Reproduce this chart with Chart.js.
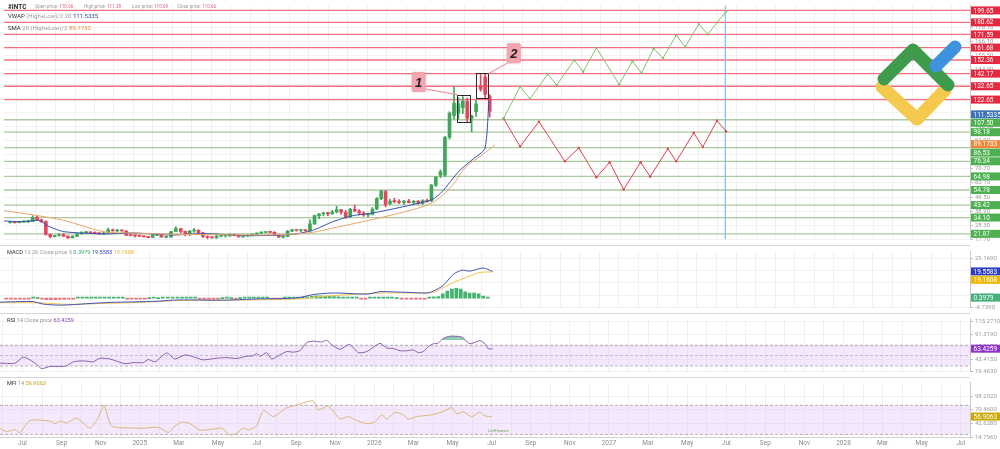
<!DOCTYPE html>
<html>
<head>
<meta charset="utf-8">
<script src="https://cdn.jsdelivr.net/npm/chart.js@4.4.1/dist/chart.umd.min.js"></script>
<style>
body{margin:0;background:#fff;font-family:Roboto,"Noto Sans",sans-serif;}
#wrap{position:relative;width:1000px;height:449px;overflow:hidden;background:#fff;}
canvas{position:absolute;left:0;}
.hd{position:absolute;white-space:nowrap;line-height:1;color:#2f2f2f;}
.g{color:#9a9a9a;}
.sep{position:absolute;left:0;width:970px;height:1px;background:#d6d6d6;}
</style>
</head>
<body>
<div id="wrap">
<canvas id="priceChart" width="1000" height="245" style="top:0"></canvas>
<canvas id="macdChart" width="1000" height="67" style="top:246px"></canvas>
<canvas id="rsiChart" width="1000" height="64" style="top:313px"></canvas>
<canvas id="mfiChart" width="1000" height="72" style="top:377px"></canvas>
<div class="sep" style="top:245px"></div>
<div class="sep" style="top:313px"></div>
<div class="sep" style="top:377px"></div>

<svg width="1000" height="449" style="position:absolute;left:0;top:0;pointer-events:none">
<g fill="none" stroke-linecap="round" stroke-linejoin="round" stroke-width="13">
<polyline points="882,87 917,119 945,90" stroke="#f3c94e"/>
<polyline points="884,79 913,50 948,85" stroke="#3e9b4b"/>
<line x1="936" y1="66" x2="955" y2="47" stroke="#3f93dc"/>
</g>
</svg>

<div class="hd" style="left:8px;top:4px;font-size:6.5px;font-weight:bold">#INTC</div>
<div class="hd g" style="left:35px;top:5px;font-size:4.6px">Open price: <span style="color:#e36174">110.66</span></div>
<div class="hd g" style="left:84px;top:5px;font-size:4.6px">High price: <span style="color:#e36174">111.38</span></div>
<div class="hd g" style="left:132px;top:5px;font-size:4.6px">Low price: <span style="color:#e36174">110.69</span></div>
<div class="hd g" style="left:177px;top:5px;font-size:4.6px">Close price: <span style="color:#e36174">110.66</span></div>
<div class="hd" style="left:8px;top:13px;font-size:6px">VWAP <span class="g">(High+Low)/2 20</span> <span id="vwapVal" style="color:#3550b0"></span></div>
<div class="hd" style="left:8px;top:25px;font-size:6px">SMA <span class="g">20 (High+Low)/2</span> <span id="smaVal" style="color:#ef8a3a"></span></div>
<div class="hd" style="left:7px;top:250px;font-size:5.6px">MACD <span class="g">12 26 Close price 9</span> <span style="color:#3aa76d">0.3979</span> <span style="color:#2f3fc4">19.5583</span> <span style="color:#f0b429">19.1608</span></div>
<div class="hd" style="left:7px;top:318px;font-size:5.6px">RSI <span class="g">14 Close price</span> <span style="color:#8e44ad">63.4259</span></div>
<div class="hd" style="left:7px;top:381px;font-size:5.6px">MFI <span class="g">14</span> <span style="color:#c9a227">56.9063</span></div>
<div class="hd" style="left:488px;top:429px;font-size:4px;color:#6aaa5a">LiteFinance</div>
</div>

<script>
// levels and price tags
const levelsUp = [199.65, 180.62, 171.59, 161.68, 152.36, 142.17, 132.65, 122.65];
const levelsDown = [107.50, 98.18, 86.53, 76.34, 64.98, 54.78, 43.42, 34.10, 21.87];
const vwapLast = 111.5335;
const smaLast = 89.1733;

const monthNames = ["Jan","Feb","Mar","Apr","May","Jun","Jul","Aug","Sep","Oct","Nov","Dec"];
const priceTicks = [17.70,28.30,38.90,49.50,60.10,70.70,81.30,91.90,102.50,113.10,123.70,134.30,144.90,155.50,166.10,176.70,187.30];
const macdTicks = [-6.739, 2.238, 11.215, 20.192, 29.169];
const rsiTicks = [19.463, 43.415, 67.367, 91.319, 115.271];
const mfiTicks = [14.796, 42.628, 70.460, 98.292];

// weekly candles, first week starts 2024-06-06
const firstWeek = "2024-06-06";
const candleOpen = [30.3,30.6,30.2,30.9,31.0,31.1,34.5,32.4,31.0,21.5,
19.8,20.6,21.3,20.1,18.9,20.0,21.8,22.8,22.9,22.7,
22.2,21.9,22.5,24.9,24.1,24.2,24.0,20.7,20.6,20.3,
20.2,19.7,19.2,20.7,21.5,19.4,19.4,23.6,25.9,23.7,
21.3,24.0,24.5,22.7,19.9,19.3,18.8,20.1,20.3,20.4,
21.5,20.5,19.6,20.2,20.5,21.6,22.4,22.9,23.3,23.0,
20.7,19.3,19.9,23.9,24.8,24.4,24.8,24.1,29.3,35.5,
36.8,37.2,37.0,38.3,40.0,38.1,34.5,40.2,39.0,37.5,
36.0,36.5,40.5,48.3,53.6,44.5,46.5,46.0,45.5,46.5,
45.2,46.2,44.8,46.8,46.5,58.5,66.0,66.0,94.4,110.5,
112.5,116.5,121.5,108.5,113.5,133.0,139.5,125.0];
const candleHigh = [31.2,31.0,31.4,31.5,31.8,35.5,35.0,33.0,31.6,21.9,
21.0,22.0,22.0,20.4,20.5,22.5,23.5,23.2,23.3,23.4,
22.8,23.5,26.2,25.5,25.0,25.1,24.3,21.5,20.9,20.6,
20.3,20.0,21.5,21.9,21.6,20.0,23.8,27.4,26.0,24.0,
24.5,26.0,25.0,23.0,20.3,19.7,22.0,20.8,20.6,21.9,
21.7,20.8,20.4,21.0,21.7,22.6,23.4,23.6,23.4,23.5,
21.0,21.0,24.5,25.4,25.3,25.0,25.2,32.4,35.9,37.2,
38.0,38.0,39.5,42.5,40.1,39.5,41.0,43.5,40.0,38.5,
37.5,41.5,49.0,54.5,54.5,48.0,48.5,47.5,47.0,47.8,
47.0,47.0,47.5,48.0,59.0,65.0,70.0,95.0,113.5,132.5,
124.0,125.0,124.0,111.0,122.0,141.5,142.0,126.5];
const candleLow = [29.8,29.9,30.0,30.4,30.3,31.0,32.0,30.5,20.9,18.8,
19.5,20.2,19.9,18.5,18.9,19.9,21.6,22.0,22.3,22.0,
21.5,21.5,22.3,23.8,23.5,23.8,20.6,20.3,19.6,19.8,
19.3,18.9,19.1,20.5,19.3,18.9,19.3,23.5,22.5,20.3,
20.5,23.0,22.5,19.0,18.0,18.6,18.6,19.6,19.3,20.1,
20.3,19.5,19.4,20.0,20.3,21.2,22.2,22.5,22.6,20.6,
19.2,18.9,19.8,23.5,23.9,23.5,23.8,24.0,29.0,33.3,
35.3,35.5,36.5,37.5,36.7,33.5,34.0,38.5,36.0,35.0,
34.5,36.0,40.0,47.5,42.0,43.5,45.0,44.5,44.0,45.0,
44.0,44.2,44.0,45.5,46.0,57.5,64.0,65.0,93.0,108.0,
108.0,112.0,106.0,98.5,110.0,129.0,123.0,109.5];
const candleClose = [30.6,30.2,30.9,31.0,31.1,34.2,32.4,31.0,21.5,19.8,
20.6,21.3,20.1,18.9,20.0,21.8,22.8,22.9,22.7,22.2,
21.9,22.5,24.9,24.1,24.2,24.0,20.7,20.6,20.3,20.2,
19.7,19.2,20.7,21.5,19.4,19.4,23.6,25.9,23.7,21.3,
24.0,24.5,22.7,19.9,19.3,18.8,20.1,20.3,20.4,21.5,
20.5,19.6,20.2,20.5,21.6,22.4,22.9,23.3,23.0,20.7,
19.3,19.9,23.9,24.8,24.4,24.8,24.1,29.3,35.5,36.8,
37.2,37.0,38.3,40.0,38.1,34.5,40.2,39.0,37.5,36.0,
36.5,40.5,48.3,54.0,43.5,46.5,46.0,45.5,46.5,45.2,
46.2,44.8,46.8,46.0,58.5,64.3,68.5,94.4,112.3,120.0,
119.5,121.5,108.7,110.5,119.5,130.5,126.6,114.0];

// x values below are months counted from Jan 2024 (6 = Jul 2024)
const vwapX = [4.85,5.87,6.64,7.15,7.92,9.96,11.50,13.54,15.08,17.63,19.68,20.71,21.74,22.76,23.78,25.16,26.85,27.36,28.23,28.89,29.55,29.76];
const vwapY = [31.5,31.0,32.0,27.5,23.5,21.8,22.5,21.0,22.0,20.5,21.5,24.5,31.0,35.5,37.5,41.6,47.6,53.6,69.1,77.4,85.8,122.0];
const smaX = [4.85,6.38,7.92,9.96,11.50,13.54,16.10,18.15,19.68,20.71,21.74,23.27,25.32,26.85,27.87,28.53,29.40,30.07];
const smaY = [39.3,36.0,32.0,23.5,22.5,21.5,21.2,21.0,21.7,23.0,26.2,31.0,38.0,45.2,58.0,71.5,81.0,88.6];

// forecast paths
const bullX = [30.51,31.36,31.87,32.78,33.24,34.14,34.60,35.28,36.45,37.13,37.60,38.22,38.70,39.38,39.84,40.54,41.00,41.94];
const bullY = [108.5,132.3,123.2,141.8,133.5,152.2,143.6,161.5,134.0,151.4,142.6,161.0,153.8,171.0,162.2,179.3,171.7,188.9];
const bearX = [30.51,31.36,32.33,33.66,34.38,35.28,35.96,36.68,37.55,38.04,38.95,39.38,40.28,40.74,41.47,41.94];
const bearY = [108.5,87.4,106.1,76.3,86.3,64.3,75.6,55.2,75.6,64.8,85.8,76.3,97.7,87.0,106.8,98.9];
const forecastEnd = 41.9;

// MACD
const macdX = [4.85,5.87,6.55,7.06,7.92,8.60,9.45,10.48,11.67,13.03,13.89,15.08,15.93,16.78,18.15,19.34,20.19,20.71,21.22,21.90,22.76,23.43,23.78,24.29,24.97,25.82,26.68,27.01,27.52,28.04,28.47,28.89,29.57,30.05];
const macdY = [-2.9,-2.5,-2.5,-4.3,-5.1,-4.7,-3.9,-3.1,-2.7,-2.1,-1.3,-1.3,-1.5,-1.3,-0.5,-0.3,0.5,2.2,3.2,3.8,3.4,3.0,3.2,4.8,4.6,4.2,3.8,5.2,9.3,17.4,20.4,19.8,22.0,19.56];
const signalX = [4.85,7.06,8.26,9.96,12.01,13.71,15.93,18.49,20.19,21.22,22.76,24.46,26.16,27.01,27.87,28.72,29.40,30.05];
const signalY = [-3.3,-3.5,-4.5,-3.9,-3.1,-1.9,-1.5,-1.1,-0.5,1.2,2.6,3.8,3.8,4.2,10.3,15.3,18.8,19.16];
const histValues = [-0.6,-0.7,-0.7,-0.6,-0.5,-0.2,0.1,0.0,-0.6,-1.0,
-1.1,-1.0,-0.9,-0.9,-0.7,-0.4,0.1,0.3,0.3,0.4,
0.3,0.4,0.5,0.5,0.4,0.3,0.1,-0.2,-0.2,-0.2,
-0.2,-0.1,0.0,0.1,0.0,0.1,0.4,0.6,0.5,0.3,
0.3,0.2,0.1,-0.1,-0.2,-0.2,-0.1,-0.1,0.0,0.1,
0.0,-0.1,0.0,0.1,0.1,0.2,0.2,0.2,0.1,-0.1,
-0.2,-0.1,0.2,0.3,0.3,0.3,0.4,0.9,1.4,1.8,
1.8,1.6,1.4,1.2,0.9,0.6,0.5,0.4,0.1,-0.1,
-0.2,0.2,0.6,0.8,0.6,0.4,0.2,0.0,-0.2,-0.3,
-0.4,-0.4,-0.3,-0.2,0.3,0.9,1.2,3.2,5.2,6.6,
7.2,6.6,4.6,3.8,3.8,3.2,1.6,0.4];

// RSI
const rsiX = [4.85,5.62,6.04,6.38,6.73,6.98,7.41,7.92,8.26,8.60,9.11,9.62,9.96,10.48,11.24,11.67,12.18,12.43,12.78,13.38,13.80,14.31,14.74,15.25,15.93,16.45,16.96,17.47,17.81,17.98,18.15,18.49,18.75,19.17,19.51,19.85,20.19,20.54,20.87,21.30,21.56,21.82,22.24,22.72,23.18,23.61,24.29,24.63,24.97,25.32,25.65,25.99,26.25,26.50,26.76,27.01,27.27,27.52,27.87,28.47,28.89,29.40,29.66,29.83,30.05];
const rsiY = [35.4,35.4,47.2,41.8,32.9,24.9,29.0,29.0,30.2,38.1,39.9,38.1,45.0,43.4,34.4,36.5,36.5,42.4,38.1,55.2,43.4,51.4,47.7,41.8,45.0,46.1,44.5,48.8,49.9,54.1,48.8,55.7,43.4,51.4,57.8,56.7,59.4,75.3,78.0,76.4,79.6,71.2,62.1,71.7,55.7,57.8,73.7,64.8,63.7,59.4,59.4,61.0,55.7,57.8,67.4,72.8,74.4,83.3,87.6,86.0,72.8,79.2,72.8,63.2,63.4];
const rsiHot = 80;

// MFI
const mfiX = [4.85,5.19,5.62,5.87,6.38,7.41,7.66,7.92,8.26,8.77,9.45,9.88,10.17,10.56,11.67,12.18,12.86,13.20,13.46,13.80,14.14,14.57,15.08,15.76,16.19,16.61,16.96,17.29,17.55,17.98,18.32,18.83,19.51,19.94,20.36,20.87,21.13,21.64,22.24,22.66,23.09,23.61,24.03,24.37,24.63,25.06,25.48,25.73,26.16,26.42,27.01,27.52,27.95,28.21,28.55,28.98,29.40,29.66,30.00];
const mfiY = [33.1,25.6,30.1,23.8,48.8,47.5,42.5,47.5,43.8,53.7,33.1,55.0,79.8,37.6,33.1,32.9,35.0,30.1,23.8,37.6,45.6,42.5,28.8,31.2,33.1,18.9,22.6,33.1,29.4,37.6,69.4,56.8,75.0,79.8,84.9,89.2,70.5,78.7,51.8,56.8,48.8,42.5,45.6,61.1,51.8,65.6,60.5,51.8,56.8,58.1,61.1,67.5,75.5,62.5,67.0,56.4,66.3,58.1,56.9];

// annotation boxes and callouts (month, price)
const boxes = [{x0:28.14,x1:28.79,y0:106.1,y1:126.4},{x0:29.10,x1:29.74,y0:123.7,y1:142.3}];
const callouts = [{text:"1",x:26.15,y:135.9,side:"right",box:0},{text:"2",x:31.04,y:157.4,side:"left",box:1}];

document.getElementById("vwapVal").textContent = vwapLast.toFixed(4);
document.getElementById("smaVal").textContent = smaLast.toFixed(4);

Chart.defaults.font.family = "Roboto";
const xMin = 4.85, xMax = 54.47;
const priceMin = 17.7, priceMax = 193.2;

function monthOf(d){
const dim = new Date(Date.UTC(d.getUTCFullYear(), d.getUTCMonth()+1, 0)).getUTCDate();
return (d.getUTCFullYear()-2024)*12 + d.getUTCMonth() + (d.getUTCDate()-1)/dim;
}
const t0 = new Date(firstWeek + "T00:00:00Z").getTime();
const candleX = candleOpen.map((_, i) => monthOf(new Date(t0 + i*7*864e5)));

const upColor = "#3fa65a", downColor = "#e2475f";
const candleColors = candleClose.map((c, i) => c >= candleOpen[i] ? upColor : downColor);
const histColors = histValues.map(v => v >= 0 ? "#43b36f" : "#e8737f");

const monthTicks = [];
for(let m = 5; m <= 54; m++) monthTicks.push(m);

function tickLabel(v){
if(v % 2 !== 0) return "";
const mo = v % 12;
return mo === 0 ? String(2024 + v/12) : monthNames[mo];
}

function xScale(showLabels){
return {
type:"linear", min:xMin, max:xMax, offset:false,
afterBuildTicks: s => { s.ticks = monthTicks.map(v => ({value:v})); },
afterFit: s => { s.height = showLabels ? 12 : 0; },
grid:{color:"#f0f0f0", drawTicks:false},
border:{display:showLabels, color:"#cfcfcf"},
ticks:{display:showLabels, autoSkip:false, maxRotation:0, padding:2, color:"#8c8c8c", font:{size:6.5}, callback: v => tickLabel(v)}
};
}

function yScale(min, max, ticks, digits){
return {
position:"right", min:min, max:max,
afterBuildTicks: s => { s.ticks = ticks.map(v => ({value:v})); },
afterFit: s => { s.width = 30; },
grid:{color:"#f2f2f2", tickLength:3, tickColor:"#bdbdbd"},
border:{color:"#c9c9c9"},
ticks:{autoSkip:false, padding:2, color:"#9a9a9a", font:{size:6}, callback: v => Number(v).toFixed(digits)}
};
}

function tagPlugin(items){
return {
id:"tags",
afterDraw(chart){
const y = chart.scales.y;
const ctx = chart.ctx;
const list = items.map(t => ({...t, py: Math.max(5, Math.min(chart.height-4, y.getPixelForValue(t.value)))}))
.sort((a, b) => a.py - b.py);
let prev = -100;
list.forEach(t => { if(t.py < prev + 8.4) t.py = prev + 8.4; prev = t.py; });
ctx.save();
ctx.font = "6.5px Roboto";
ctx.textBaseline = "middle";
list.forEach(t => {
ctx.fillStyle = t.bg;
ctx.fillRect(971, t.py - 4, 29, 8);
ctx.fillStyle = "#fff";
ctx.fillText(t.text, 973.5, t.py + 0.5);
});
ctx.restore();
}
};
}

const notePlugin = {
id:"notes",
afterDatasetsDraw(chart){
const xs = chart.scales.x, ys = chart.scales.y, ctx = chart.ctx;
ctx.save();
boxes.forEach(b => {
const x0 = xs.getPixelForValue(b.x0), x1 = xs.getPixelForValue(b.x1);
const y0 = ys.getPixelForValue(b.y1), y1 = ys.getPixelForValue(b.y0);
ctx.strokeStyle = "#2a2a2a";
ctx.lineWidth = 1;
ctx.strokeRect(Math.round(x0)+0.5, Math.round(y0)+0.5, Math.round(x1-x0), Math.round(y1-y0));
});
callouts.forEach(c => {
const cx = xs.getPixelForValue(c.x), cy = ys.getPixelForValue(c.y);
const b = boxes[c.box];
ctx.strokeStyle = "#f19aa6";
ctx.lineWidth = 1.2;
ctx.beginPath();
if(c.side === "right"){
ctx.moveTo(cx + 6, cy + 7);
ctx.lineTo(xs.getPixelForValue(b.x0), ys.getPixelForValue(b.y1));
} else {
ctx.moveTo(cx - 5, cy + 9);
ctx.lineTo(xs.getPixelForValue(b.x1), ys.getPixelForValue(b.y1));
}
ctx.stroke();
ctx.shadowColor = "rgba(0,0,0,0.18)";
ctx.shadowBlur = 2;
ctx.fillStyle = "#f4a5af";
ctx.beginPath();
ctx.roundRect(cx - 7, cy - 10, 14, 20, 2);
ctx.fill();
ctx.shadowBlur = 0;
ctx.fillStyle = "#1e1e1e";
ctx.font = "italic bold 13px 'Liberation Sans'";
ctx.textAlign = "center";
ctx.textBaseline = "middle";
ctx.fillText(c.text, cx, cy + 1);
});
ctx.restore();
}
};

const baseOptions = {
responsive:false, animation:false, events:[],
layout:{padding:0},
plugins:{legend:{display:false}, tooltip:{enabled:false}}
};

function line(xs, ys, color, width, extra){
return Object.assign({type:"line", data: xs.map((x, i) => ({x:x, y:ys[i]})), borderColor:color, borderWidth:width, pointRadius:0, tension:0, fill:false}, extra || {});
}

function levelLine(v, color){
const y = Math.min(v, priceMax - 3.6);
return line([xMin, xMax], [y, y], color, 1.3, {order:10});
}

/* PRICE */

const priceTags = levelsUp.map(v => ({value: Math.min(v, priceMax - 3.6), text: v.toFixed(2), bg:"#e5283f"}))
.concat(levelsDown.map(v => ({value:v, text:v.toFixed(2), bg:"#4caf50"})))
.concat([{value:vwapLast, text:vwapLast.toFixed(4), bg:"#3d72b8"}, {value:smaLast, text:smaLast.toFixed(4), bg:"#f08636"}]);

new Chart(document.getElementById("priceChart"), {
type:"bar",
data:{datasets:[
...levelsUp.map(v => levelLine(v, "#f2707f")),
...levelsDown.map(v => levelLine(v, "#acc9a0")),
line([forecastEnd, forecastEnd], [priceMin, priceMax], "#80bbe6", 1.2, {order:9}),
{type:"bar", data:candleX.map((x, i) => ({x:x, y:[candleLow[i], candleHigh[i]]})), backgroundColor:candleColors, barThickness:1, grouped:false, order:4},
{type:"bar", data:candleX.map((x, i) => ({x:x, y:[candleOpen[i], candleClose[i]]})), backgroundColor:candleColors, barThickness:3, minBarLength:1, grouped:false, order:3},
line(smaX, smaY, "#eba56a", 1, {order:2, tension:0.3}),
line(vwapX, vwapY, "#3550b0", 1, {order:2, tension:0.2}),
line(bullX, bullY, "#86bd72", 1, {order:1, pointRadius:1.2, pointBackgroundColor:"#86bd72", pointBorderWidth:0}),
line(bearX, bearY, "#d9434f", 1, {order:1, pointRadius:1.2, pointBackgroundColor:"#d9434f", pointBorderWidth:0})
]},
options:{...baseOptions, scales:{x:xScale(false), y:yScale(priceMin, priceMax, priceTicks, 2)}},
plugins:[notePlugin, tagPlugin(priceTags)]
});

/* MACD */

new Chart(document.getElementById("macdChart"), {
type:"bar",
data:{datasets:[
{type:"bar", data:candleX.map((x, i) => ({x:x, y:histValues[i]})), backgroundColor:histColors, barThickness:3, minBarLength:1, grouped:false, order:3},
line(signalX, signalY, "#f2c04e", 1, {order:2, tension:0.3}),
line(macdX, macdY, "#4553b8", 1, {order:1, tension:0.3})
]},
options:{...baseOptions, scales:{x:xScale(false), y:yScale(-6.739, 34.04, macdTicks, 4)}},
plugins:[tagPlugin([{value:19.5583, text:"19.5583", bg:"#2f3fc4"}, {value:19.1608, text:"19.1608", bg:"#f2b705"}, {value:0.3979, text:"0.3979", bg:"#45b07a"}])]
});

/* RSI */

new Chart(document.getElementById("rsiChart"), {
type:"line",
data:{datasets:[
line([xMin, xMax], [70, 70], "#9b9b9b", 0.8, {borderDash:[3,2], fill:{target:{value:30}}, backgroundColor:"rgba(222,190,246,0.35)", order:5}),
line([xMin, xMax], [50, 50], "#9b9b9b", 0.8, {borderDash:[3,2], order:5}),
line([xMin, xMax], [30, 30], "#9b9b9b", 0.8, {borderDash:[3,2], order:5}),
line(rsiX, rsiY, "#8a5fae", 1, {order:1, tension:0.2, fill:{target:{value:rsiHot}, above:"rgba(64,170,125,0.6)", below:"rgba(0,0,0,0)"}})
]},
options:{...baseOptions, scales:{x:xScale(false), y:yScale(19.463, 121.65, rsiTicks, 4)}},
plugins:[tagPlugin([{value:63.4259, text:"63.4259", bg:"#8e35c9"}])]
});

/* MFI */

new Chart(document.getElementById("mfiChart"), {
type:"line",
data:{datasets:[
line([xMin, xMax], [80, 80], "#9b9b9b", 0.8, {borderDash:[3,2], fill:{target:{value:20}}, backgroundColor:"rgba(222,190,246,0.35)", order:5}),
line([xMin, xMax], [20, 20], "#9b9b9b", 0.8, {borderDash:[3,2], order:5}),
line(mfiX, mfiY, "#dcb679", 1, {order:1, tension:0.2})
]},
options:{...baseOptions, scales:{x:xScale(true), y:yScale(14.796, 126.9, mfiTicks, 4)}},
plugins:[tagPlugin([{value:56.9063, text:"56.9063", bg:"#c9a800"}])]
});
</script>
</body>
</html>
